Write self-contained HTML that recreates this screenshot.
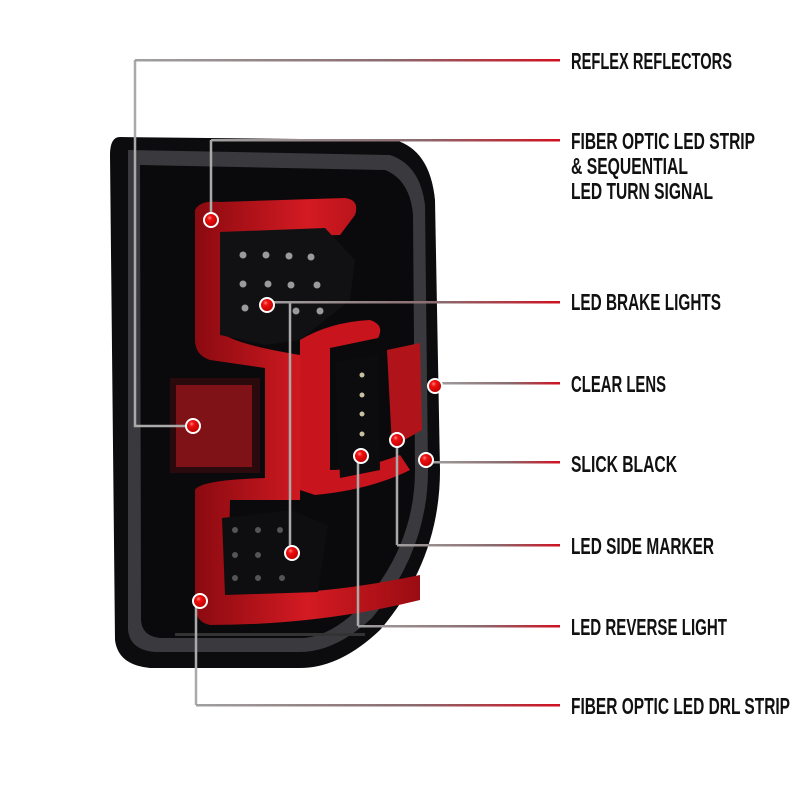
<!DOCTYPE html>
<html><head><style>
html,body{margin:0;padding:0;background:#fff;}
svg{display:block}
text{font-family:"Liberation Sans",sans-serif;font-weight:bold;fill:#111;font-size:23px}
</style></head><body>
<svg width="800" height="800" viewBox="0 0 800 800" xmlns="http://www.w3.org/2000/svg">
<defs>
<linearGradient id="lg" x1="0" x2="1" y1="0" y2="0">
<stop offset="0" stop-color="#a0a0a0"/><stop offset="0.6" stop-color="#8a6a6e"/><stop offset="1" stop-color="#d01020"/>
</linearGradient>
<radialGradient id="dot" cx="0.4" cy="0.35" r="0.6">
<stop offset="0" stop-color="#ff8080"/><stop offset="0.3" stop-color="#f01010"/><stop offset="1" stop-color="#c00000"/>
</radialGradient>
<linearGradient id="red" x1="0" x2="1" y1="0" y2="0">
<stop offset="0" stop-color="#8a0a10"/><stop offset="0.5" stop-color="#d41a22"/><stop offset="1" stop-color="#9a0c12"/>
</linearGradient>
</defs>
<!-- lamp body -->
<path d="M120,137 L395,140 Q430,150 435,200 L440,470 Q440,560 380,630 Q340,668 300,668 L150,668 Q118,665 115,640 L110,155 Q110,137 120,137 Z" fill="#0c0c0e"/>
<path d="M128,150 L390,155 Q420,165 425,205 L428,470 Q428,550 372,618 Q335,652 300,652 L155,652 Q130,650 128,630 Z" fill="#3a3a3e"/>
<path d="M140,165 L385,170 Q410,180 413,215 L415,470 Q415,545 362,605 Q330,638 300,638 L160,638 Q142,636 141,620 Z" fill="#0a0a0c"/>
<!-- red fiber strip main -->
<path d="M195,210 Q200,200 220,202 L345,198 Q360,200 355,215 L340,235 L225,238 L225,335 Q240,345 300,355 L300,500 L230,500 L228,590 Q300,600 420,575 L420,600 Q320,625 210,625 Q195,622 195,605 L195,490 Q200,480 265,478 L265,368 L210,360 Q195,355 195,340 Z" fill="url(#red)"/>
<!-- second red strip -->
<path d="M300,340 Q330,322 370,320 Q385,325 378,338 L330,348 L330,470 Q360,470 400,455 L410,470 Q370,490 315,495 L300,490 Z" fill="#c8141c"/>
<!-- top LED box -->
<path d="M220,232 L325,228 L355,260 L350,300 L300,340 L265,345 L220,335 Z" fill="#111114"/>
<g fill="#9a9a9a">
<circle cx="243" cy="255" r="3.5"/><circle cx="266" cy="255" r="3.5"/><circle cx="289" cy="256" r="3.5"/><circle cx="311" cy="257" r="3.5"/>
<circle cx="243" cy="284" r="3.5"/><circle cx="268" cy="284" r="3.5"/><circle cx="291" cy="285" r="3.5"/><circle cx="317" cy="285" r="3.5"/>
<circle cx="245" cy="308" r="3.5"/><circle cx="296" cy="311" r="3.5"/><circle cx="320" cy="311" r="3.5"/>
</g>
<!-- bottom LED box -->
<path d="M222,518 L290,510 L328,525 L318,592 L225,595 Z" fill="#0e0e10"/>
<g fill="#555"><circle cx="235" cy="530" r="3"/><circle cx="258" cy="530" r="3"/><circle cx="280" cy="530" r="3"/><circle cx="235" cy="555" r="3"/><circle cx="258" cy="555" r="3"/><circle cx="235" cy="578" r="3"/><circle cx="258" cy="578" r="3"/><circle cx="282" cy="578" r="3"/></g>
<!-- left reflector -->
<rect x="170" y="378" width="90" height="95" fill="#2a0a0c"/>
<rect x="176" y="385" width="76" height="82" fill="#7e1216"/>
<!-- column LEDs -->
<path d="M335,362 L378,355 L380,470 L340,478 Z" fill="#0c0c0e"/>
<g fill="#c8c0a0"><circle cx="362" cy="375" r="2.5"/><circle cx="362" cy="395" r="2.5"/><circle cx="362" cy="414" r="2.5"/><circle cx="362" cy="434" r="2.5"/><circle cx="362" cy="452" r="2.5"/></g>
<!-- clear lens red -->
<path d="M387,350 L420,343 L422,430 L392,447 Z" fill="#b0141a"/>
<rect x="175" y="633" width="190" height="3" fill="#333"/>

<!-- vertical callout lines -->
<g fill="none" stroke-width="2.5" stroke="#aaa">
<path d="M193,426 H135 V60"/>
<path d="M211,220 V140"/>
<path d="M290,302 V553"/>
<path d="M397,440 V545"/>
<path d="M358,456 V626"/>
<path d="M196,601 V705"/>
</g>
<!-- horizontal gradient lines -->
<g fill="url(#lg)">
<rect x="135" y="59" width="425" height="2.5"/>
<rect x="211" y="139" width="349" height="2.5"/>
<rect x="267" y="301" width="293" height="2.5"/>
<rect x="435" y="382" width="125" height="2.5"/>
<rect x="426" y="461" width="134" height="2.5"/>
<rect x="397" y="544" width="163" height="2.5"/>
<rect x="358" y="625" width="202" height="2.5"/>
<rect x="196" y="704" width="364" height="2.5"/>
</g>
<!-- dots -->
<g fill="url(#dot)" stroke="#fff" stroke-width="2">
<circle cx="193" cy="426" r="7"/><circle cx="211" cy="220" r="7"/><circle cx="267" cy="305" r="7"/><circle cx="292" cy="553" r="7"/>
<circle cx="435" cy="386" r="7"/><circle cx="426" cy="460" r="7"/><circle cx="397" cy="440" r="7"/><circle cx="361" cy="456" r="7"/><circle cx="200" cy="601" r="7"/>
</g>
<!-- labels -->
<text x="571" y="69" textLength="161" lengthAdjust="spacingAndGlyphs">REFLEX REFLECTORS</text>
<text x="571" y="149" textLength="184" lengthAdjust="spacingAndGlyphs">FIBER OPTIC LED STRIP</text>
<text x="571" y="174" textLength="117" lengthAdjust="spacingAndGlyphs">&amp; SEQUENTIAL</text>
<text x="571" y="199" textLength="142" lengthAdjust="spacingAndGlyphs">LED TURN SIGNAL</text>
<text x="571" y="310" textLength="150" lengthAdjust="spacingAndGlyphs">LED BRAKE LIGHTS</text>
<text x="571" y="392" textLength="95" lengthAdjust="spacingAndGlyphs">CLEAR LENS</text>
<text x="571" y="472" textLength="106" lengthAdjust="spacingAndGlyphs">SLICK BLACK</text>
<text x="571" y="554" textLength="143" lengthAdjust="spacingAndGlyphs">LED SIDE MARKER</text>
<text x="571" y="635" textLength="156" lengthAdjust="spacingAndGlyphs">LED REVERSE LIGHT</text>
<text x="571" y="714" textLength="219" lengthAdjust="spacingAndGlyphs">FIBER OPTIC LED DRL STRIP</text>
</svg>
</body></html>
